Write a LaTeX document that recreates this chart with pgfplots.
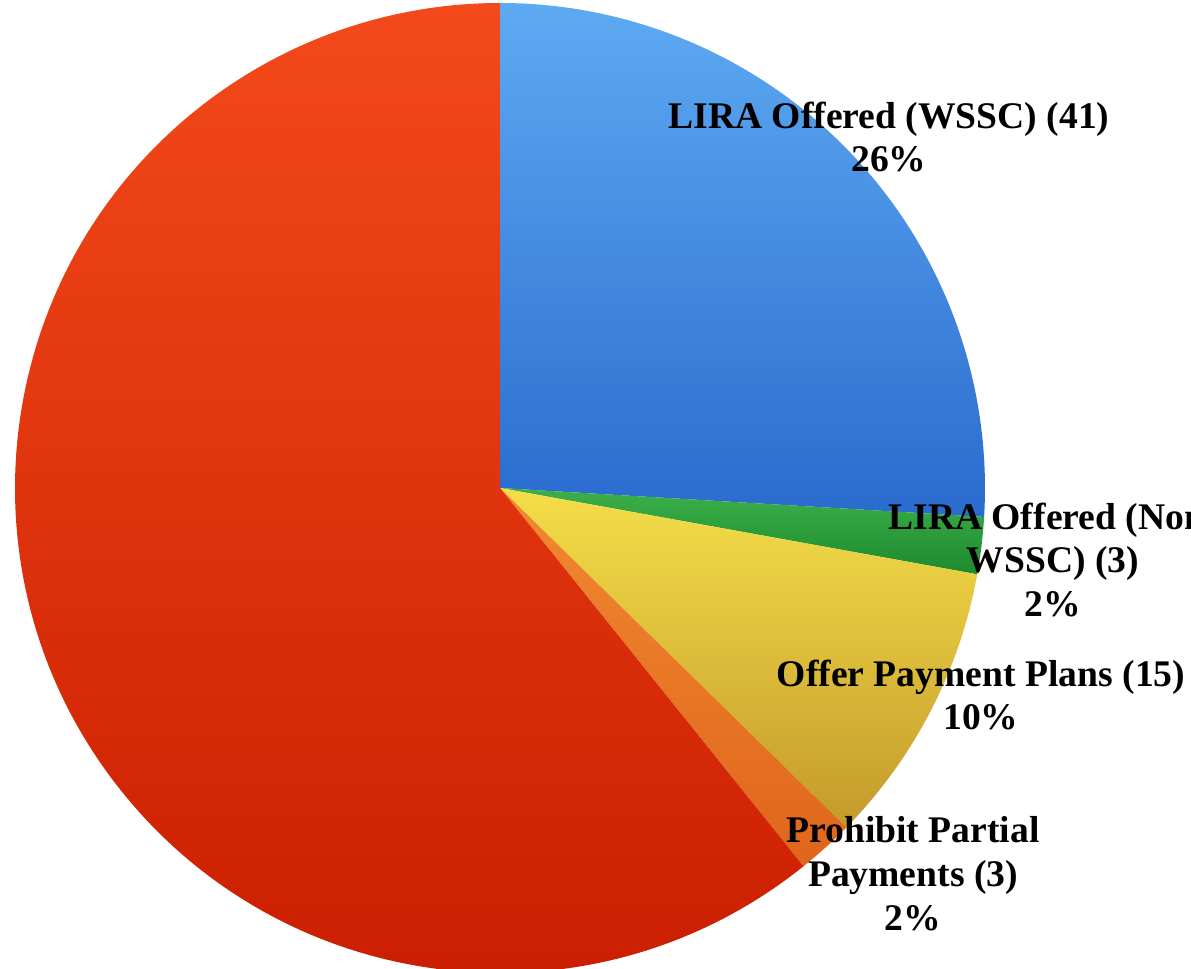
\documentclass[border=0pt]{standalone}
\usepackage{pgfplots}
\usepackage{pgfplotstable}
\pgfplotsset{compat=1.18}
\usepackage{fontspec}
\setmainfont{Liberation Serif}

\definecolor{blueTop}{HTML}{5DAAF2}
\definecolor{blueBot}{HTML}{2A6BCE}
\definecolor{greenTop}{HTML}{3CB04A}
\definecolor{greenBot}{HTML}{1E8A2E}
\definecolor{yellowTop}{HTML}{F5DE48}
\definecolor{yellowBot}{HTML}{C49A2C}
\definecolor{orangeTop}{HTML}{F08A30}
\definecolor{orangeBot}{HTML}{E0651C}
\definecolor{redTop}{HTML}{F4491A}
\definecolor{redBot}{HTML}{C81C00}

\pgfplotstableread{
idx value
0 41
1 3
2 15
3 3
4 96
}\piedata

\newcommand{\pieslice}[4]{%
  \shade[top color=#3,bottom color=#4] (axis cs:500,481) -- ++(#1:4.85cm)
    arc[start angle=#1,end angle=#2,radius=4.85cm] -- cycle;}

\begin{document}
\begin{tikzpicture}
\pgfplotstablegetelem{0}{value}\of\piedata \let\vA\pgfplotsretval
\pgfplotstablegetelem{1}{value}\of\piedata \let\vB\pgfplotsretval
\pgfplotstablegetelem{2}{value}\of\piedata \let\vC\pgfplotsretval
\pgfplotstablegetelem{3}{value}\of\piedata \let\vD\pgfplotsretval
\pgfplotstablegetelem{4}{value}\of\piedata \let\vE\pgfplotsretval
\pgfmathsetmacro\tot{\vA+\vB+\vC+\vD+\vE}
\pgfmathsetmacro\aA{90}
\pgfmathsetmacro\aB{\aA-(\vA/\tot)*360}
\pgfmathsetmacro\aC{\aB-(\vB/\tot)*360}
\pgfmathsetmacro\aD{\aC-(\vC/\tot)*360}
\pgfmathsetmacro\aE{\aD-(\vD/\tot)*360}
\pgfmathsetmacro\aF{\aE-(\vE/\tot)*360}
\begin{axis}[
  hide axis, scale only axis,
  width=11.91cm, height=9.69cm,
  xmin=0, xmax=1191, ymin=0, ymax=969,
  clip=false,
]
\pieslice{\aA}{\aB}{blueTop}{blueBot}
\pieslice{\aB}{\aC}{greenTop}{greenBot}
\pieslice{\aC}{\aD}{yellowTop}{yellowBot}
\pieslice{\aD}{\aE}{orangeTop}{orangeBot}
\pieslice{\aE}{\aF}{redTop}{redBot}
\tikzset{lbl/.style={font=\fontsize{10.7}{12.5}\selectfont\bfseries, align=center, inner sep=0pt, anchor=center}}
\node[lbl] at (axis cs:889,{969-137}) {LIRA Offered (WSSC) (41)\\26\%};
\node[lbl] at (axis cs:1053,{969-560}) {LIRA Offered (Non-\\WSSC) (3)\\2\%};
\node[lbl] at (axis cs:981,{969-695}) {Offer Payment Plans (15)\\10\%};
\node[lbl] at (axis cs:913,{969-874}) {Prohibit Partial\\Payments (3)\\2\%};
\end{axis}
\pgfresetboundingbox
\path[use as bounding box] (current axis.south west) rectangle (current axis.north east);
\end{tikzpicture}
\end{document}
